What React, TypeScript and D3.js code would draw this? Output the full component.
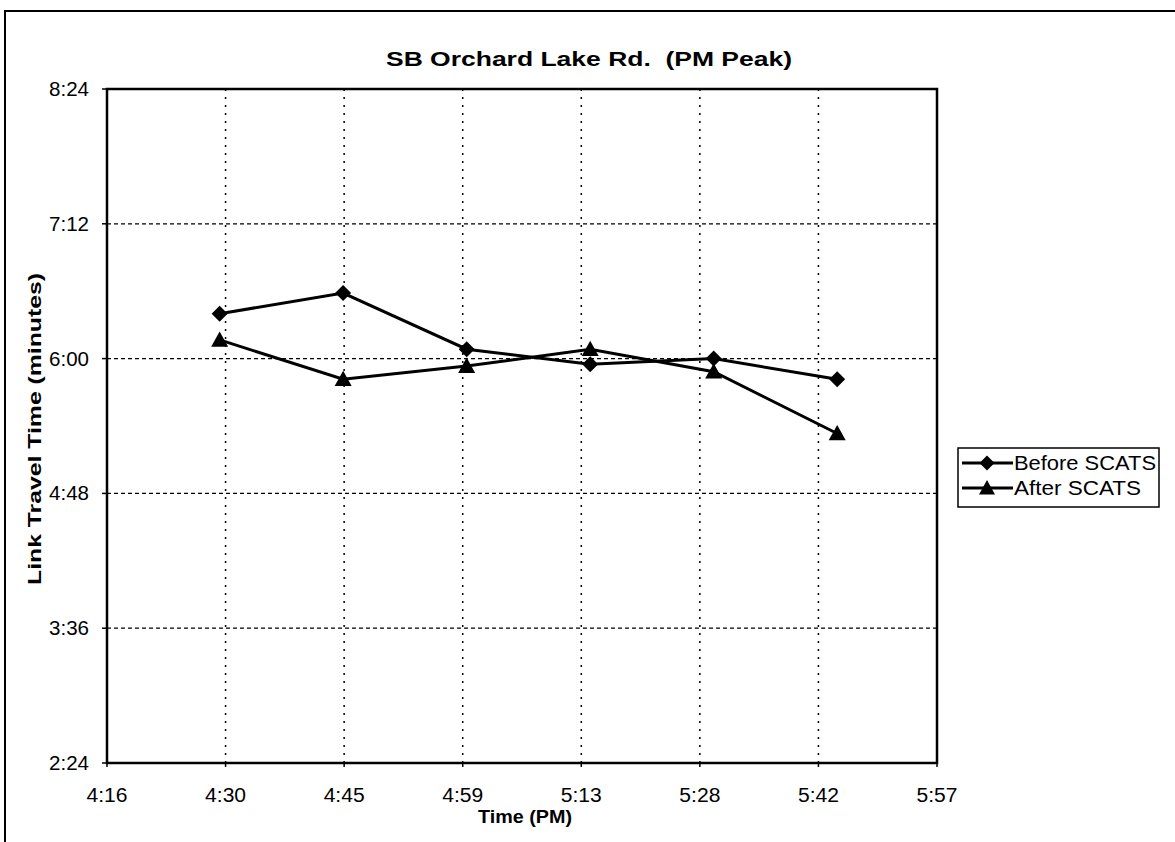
import React from "react";
import * as d3 from "d3";

// ---- data ----
const sampleTimes = ["4:30", "4:45", "5:00", "5:15", "5:30", "5:45"]; // PM
const beforeScats = ["6:24", "6:35", "6:05", "5:57", "6:00", "5:49"]; // m:ss
const afterScats = ["6:10", "5:49", "5:56", "6:05", "5:53", "5:20"]; // m:ss
const xTickLabels = ["4:16", "4:30", "4:45", "4:59", "5:13", "5:28", "5:42", "5:57"];
const yTickLabels = ["2:24", "3:36", "4:48", "6:00", "7:12", "8:24"];
const seriesNames = ["Before SCATS", "After SCATS"];

// Excel time axis: 0.678 .. 0.748 days, major unit 0.01 day (in minutes)
const xMin = 0.678 * 1440;
const xMax = 0.748 * 1440;
const xStep = 0.01 * 1440;

const pmToMin = (s: string) => {
  const [h, m] = s.split(":").map(Number);
  return (h + 12) * 60 + m;
};
const msToSec = (s: string) => {
  const [m, sec] = s.split(":").map(Number);
  return m * 60 + sec;
};

const W = 1175;
const H = 842;
const plot = { left: 107, right: 937, top: 89, bottom: 763 };

export default function App() {
  const x = d3.scaleLinear().domain([xMin, xMax]).range([plot.left, plot.right]);
  const y = d3.scaleLinear().domain([144, 504]).range([plot.bottom, plot.top]);

  const xTicks = xTickLabels.map((l, i) => ({ label: l, v: xMin + i * xStep }));
  const yTicks = yTickLabels.map((l) => ({ label: l, v: msToSec(l) }));

  const beforePts = sampleTimes.map((t, i) => [x(pmToMin(t)), y(msToSec(beforeScats[i]))] as [number, number]);
  const afterPts = sampleTimes.map((t, i) => [x(pmToMin(t)), y(msToSec(afterScats[i]))] as [number, number]);
  const line = d3.line();

  const diamond = (cx: number, cy: number, r = 8) =>
    `M${cx},${cy - r}L${cx + r},${cy}L${cx},${cy + r}L${cx - r},${cy}Z`;
  const tri = (cx: number, cy: number, r = 8.5) =>
    `M${cx},${cy - r}L${cx + r},${cy + r * 0.8}L${cx - r},${cy + r * 0.8}Z`;

  const font = "'Liberation Sans', Arial, sans-serif";
  const legY = [463, 488];
  const legLen = [142, 127];

  return (
    <svg width={W} height={H} style={{ position: "absolute", left: 0, top: 0, background: "#fff" }} fontFamily={font}>
      <rect x={0} y={0} width={W} height={H} fill="#fff" />
      {/* outer chart border */}
      <rect x={5} y={11} width={W + 20} height={H + 20} fill="none" stroke="#000" strokeWidth={2} />

      {/* title */}
      <text x={589} y={66} textAnchor="middle" fontWeight="bold" fontSize={21} textLength={406} lengthAdjust="spacingAndGlyphs" style={{ whiteSpace: "pre" }}>
        {"SB Orchard Lake Rd.  (PM Peak)"}
      </text>

      {/* gridlines */}
      {yTicks.slice(1, -1).map((t) => (
        <line key={"gy" + t.label} x1={plot.left} x2={plot.right} y1={y(t.v)} y2={y(t.v)} stroke="#000" strokeWidth={1.3} strokeDasharray="4,3" />
      ))}
      {xTicks.slice(1, -1).map((t) => (
        <line key={"gx" + t.label} x1={x(t.v)} x2={x(t.v)} y1={plot.top} y2={plot.bottom} stroke="#000" strokeWidth={1.5} strokeDasharray="2,6" />
      ))}

      {/* plot border */}
      <rect x={plot.left} y={plot.top} width={plot.right - plot.left} height={plot.bottom - plot.top} fill="none" stroke="#000" strokeWidth={2.5} />

      {/* y ticks */}
      {yTicks.map((t) => (
        <g key={"yt" + t.label}>
          <line x1={plot.left - 5} x2={plot.left} y1={y(t.v)} y2={y(t.v)} stroke="#000" strokeWidth={1.5} />
          <text x={89} y={y(t.v) + 7} textAnchor="end" fontSize={19.5} textLength={40} lengthAdjust="spacingAndGlyphs">
            {t.label}
          </text>
        </g>
      ))}
      {/* x ticks */}
      {xTicks.map((t) => (
        <g key={"xt" + t.label}>
          <line x1={x(t.v)} x2={x(t.v)} y1={plot.bottom} y2={plot.bottom + 4} stroke="#000" strokeWidth={1.5} />
          <text x={x(t.v)} y={802} textAnchor="middle" fontSize={19.5} textLength={41} lengthAdjust="spacingAndGlyphs">
            {t.label}
          </text>
        </g>
      ))}

      {/* axis titles */}
      <text x={525} y={823} textAnchor="middle" fontWeight="bold" fontSize={18} textLength={94} lengthAdjust="spacingAndGlyphs">
        Time (PM)
      </text>
      <text transform={`translate(41,${(plot.top + plot.bottom) / 2 + 3}) rotate(-90)`} textAnchor="middle" fontWeight="bold" fontSize={18} textLength={312} lengthAdjust="spacingAndGlyphs">
        Link Travel Time (minutes)
      </text>

      {/* series */}
      <path d={line(beforePts) || ""} fill="none" stroke="#000" strokeWidth={3} />
      <path d={line(afterPts) || ""} fill="none" stroke="#000" strokeWidth={3} />
      {beforePts.map(([cx, cy], i) => (
        <path key={"b" + i} d={diamond(cx, cy)} fill="#000" />
      ))}
      {afterPts.map(([cx, cy], i) => (
        <path key={"a" + i} d={tri(cx, cy)} fill="#000" />
      ))}

      {/* legend */}
      <rect x={958} y={448} width={201} height={59} fill="#fff" stroke="#000" strokeWidth={1.5} />
      {seriesNames.map((name, i) => (
        <g key={name}>
          <line x1={962} x2={1013} y1={legY[i]} y2={legY[i]} stroke="#000" strokeWidth={3} />
          <path d={i === 0 ? diamond(987, legY[i], 7.5) : tri(987, legY[i], 8)} fill="#000" />
          <text x={1014} y={legY[i] + 7} fontSize={20} textLength={legLen[i]} lengthAdjust="spacingAndGlyphs">
            {name}
          </text>
        </g>
      ))}
    </svg>
  );
}
